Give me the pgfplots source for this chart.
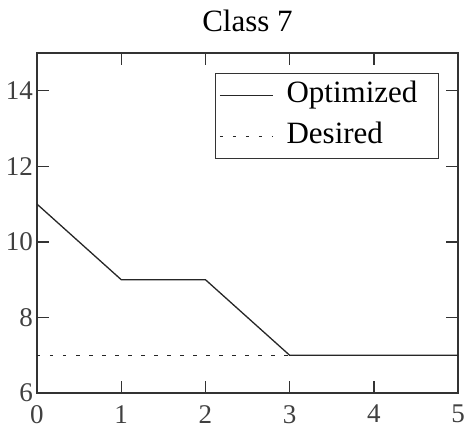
\documentclass[border=0pt]{standalone}
\usepackage{fontspec}
\setmainfont{Liberation Serif}
\usepackage{pgfplots}
\pgfplotsset{compat=1.18}
\begin{document}
\fontsize{31}{37}\selectfont
\begin{tikzpicture}
\useasboundingbox (-37pt,-40pt) rectangle (439pt,393pt);
\begin{axis}[
  at={(0pt,0pt)}, anchor=south west,
  scale only axis, width=421pt, height=340pt,
  xmin=0, xmax=5, ymin=6, ymax=15,
  xtick={0,1,2,3,4,5}, ytick={6,8,10,12,14},
  tick align=inside, major tick length=12pt,
  xtick pos=both, ytick pos=both,
  axis line style={line width=1.4pt, black!80},
  tick style={line width=1.4pt, black!80},
  /pgf/number format/assume math mode=true,
  ticklabel style={font=\fontsize{27}{32}\selectfont, text=black!75},
  xticklabel style={inner ysep=0pt, yshift=-12pt},
  yticklabel style={inner xsep=0pt, xshift=-4pt},
  title={Class 7},
  title style={font=\fontsize{31}{37}\selectfont, at={(0.5,1)}, anchor=base, inner sep=0pt, yshift=15pt},
  legend style={at={(0.955,0.941)}, anchor=north east, draw=black!80, line width=1.3pt,
    font=\fontsize{31}{37}\selectfont, inner xsep=4pt, inner ysep=7pt, row sep=11pt,
    nodes={inner sep=0pt, text height=22pt, text depth=8pt}},
  legend cell align=left,
  legend image code/.code={\draw[#1] (0pt,0pt) -- (53pt,0pt);},
  /tikz/every odd column/.append style={column sep=13pt},
]
\addplot[black!85, line width=1.3pt] coordinates {(0,11) (1,9) (2,9) (3,7) (4,7) (5,7)};
\addlegendentry{Optimized\hspace*{17pt}}
\addplot[black!85, line width=1.3pt, dash pattern=on 3.5pt off 9.5pt] coordinates {(0,7) (5,7)};
\addlegendentry{Desired}
\end{axis}
\end{tikzpicture}
\end{document}
